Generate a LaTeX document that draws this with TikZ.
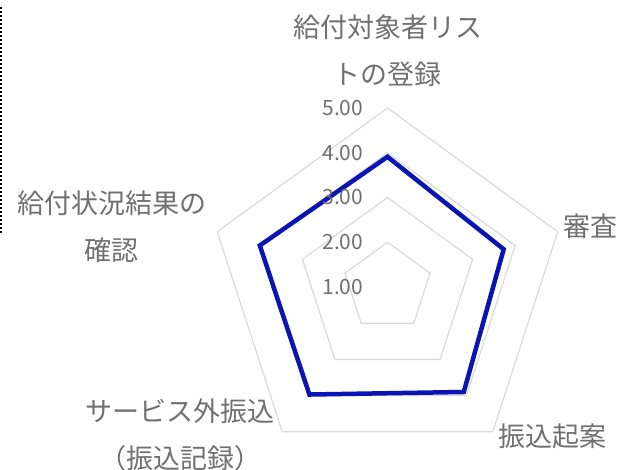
\documentclass[tikz,border=0pt]{standalone}
\usepackage{fontspec}
\setmainfont{Noto Sans CJK JP}
\usepackage{tikz}
\usepackage{color}
\definecolor{gridgray}{HTML}{D9D9D9}
\definecolor{textgray}{HTML}{707070}
\definecolor{lineblue}{HTML}{0A14B4}

\begin{document}
\begin{tikzpicture}[x=1pt,y=1pt]
            \tikzstyle{every node}+=[inner sep=0pt, text=textgray]
            \tikzstyle{cat}=[font=\fontsize{27}{47}\selectfont, align=center]
            \tikzstyle{tick}=[font=\fontsize{21}{21}\selectfont, anchor=east]
            \useasboundingbox (0,0) rectangle (621,-470);
            \coordinate (o) at (387.5,-287);
            % grid rings
            \foreach \r in {1,2,3,4}
              \draw [gridgray, line width=1.2pt] ([shift={(o)}]90:\r*44.75) -- ([shift={(o)}]18:\r*44.75) -- ([shift={(o)}]-54:\r*44.75) -- ([shift={(o)}]-126:\r*44.75) -- ([shift={(o)}]162:\r*44.75) -- cycle;
            % data
            \foreach \a/\v [count=\i] in {90/3.91,18/3.73,-54/3.90,-126/3.97,162/4.00}
              \coordinate (d\i) at ([shift={(o)}]\a:{(\v-1)*44.75});
            \draw [lineblue, line width=4.5pt] (d1) -- (d2) -- (d3) -- (d4) -- (d5) -- cycle;
            % scale
            \foreach \v in {1,...,5}
              \node (tick\v) [tick] at (363.5,{-287+(\v-1)*44.75}) {\v.00};
            % categories
            \node (lab1) [cat] at (387.5,-50.5) {給付対象者リス\\トの登録};
            \node (lab2) [cat] at (590,-226.5) {審査};
            \node (lab3) [cat] at (552.5,-436.5) {振込起案};
            \node (lab4) [cat] at (180,-434.5) {サービス外振込\\（振込記録）};
            \node (lab5) [cat] at (111.5,-227) {給付状況結果の\\確認};
            % frame edge
            \draw [black, line width=1.2pt, dash pattern=on 2.5pt off 1.5pt] (1,-7) -- (1,-235);
          \end{tikzpicture}
\end{document}
